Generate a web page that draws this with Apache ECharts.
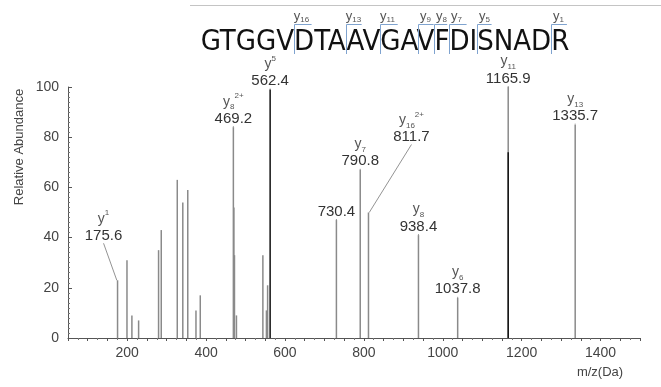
<!DOCTYPE html>
<html><head><meta charset="utf-8">
<script src="https://cdn.jsdelivr.net/npm/echarts@6/dist/echarts.min.js"></script>
<style>html,body{margin:0;padding:0;background:#fff}#c{width:661px;height:387px}</style>
</head><body><div id="c"></div>
<script>
// ---- data ----
const sequence = 'GTGGVDTAAVGAVFDISNADR';
const fragmentIons = ['16', '13', '11', '9', '8', '7', '5', '1'];
const xTickLabels = [200, 400, 600, 800, 1000, 1200, 1400];
const yTickLabels = [0, 20, 40, 60, 80, 100];

const labeledMz = [175.6, 469.2, 562.4, 730.4, 790.8, 811.7, 938.4, 1037.8, 1165.9, 1335.7];
const labeledIntensity = [23, 84, 99, 47, 67, 50, 41, 16, 100, 85];
const labeledIonSub = ['', '8', '', '', '7', '16', '8', '6', '11', '13'];
const labeledIonSup = ['1', '2+', '5', '', '', '2+', '', '', '', ''];

const otherMz = [199.5, 212, 229, 279.6, 286.4, 327, 341, 353.6, 374.4, 385.3, 470.5, 472, 477, 544, 553, 556];
const otherIntensity = [31, 9, 7, 35, 43, 63, 54, 59, 11, 17, 52, 33, 9, 33, 11, 21];

const overlapMz = [1165.9];
const overlapIntensity = [74];

// ---- chart ----
const chart = echarts.init(document.getElementById('c'), null, {renderer: 'canvas'});
const baseFont = '"Liberation Sans", Arial, sans-serif';
const GRAY = '#8a8a8a';

const labeledData = labeledMz.map((m, i) => ({
  value: [m, labeledIntensity[i]],
  itemStyle: {color: m === 562.4 ? '#111' : GRAY}
}));

function ionLabel(i) {
  const sub = labeledIonSub[i], sup = labeledIonSup[i];
  let head = '';
  if (sub || sup) {
    head = '{y|y}' + (sub ? '{sub|' + sub + '}' : '') + (sup ? '{sup|' + sup + '}' : '') + '\n';
  }
  return head + '{num|' + labeledMz[i].toFixed(1) + '}';
}

const seqFont = '29px "Liberation Sans Narrow", "DejaVu Sans Condensed", sans-serif';
const ctx = document.createElement('canvas').getContext('2d');
ctx.font = seqFont;
const seqW = ctx.measureText(sequence).width;
const seqCx = 385;
const seqStart = seqCx - seqW / 2;
const graphics = [];
graphics.push({type: 'line', shape: {x1: 190, y1: 5.5, x2: 661, y2: 5.5}, style: {stroke: '#c4c4c4', lineWidth: 1}});
graphics.push({type: 'text', x: seqCx, y: 42, style: {text: sequence, font: seqFont, fill: '#111', align: 'center', verticalAlign: 'middle'}});
fragmentIons.forEach(n => {
  const idx = sequence.length - parseInt(n, 10);
  const x = Math.round(seqStart + ctx.measureText(sequence.slice(0, idx)).width) + 0.5;
  const w = ctx.measureText(sequence[idx]).width * 0.85;
  graphics.push({type: 'polyline', shape: {points: [[x, 54], [x, 24.5], [x + w, 24.5]]}, style: {stroke: '#7fa3cf', lineWidth: 1, fill: null}});
  graphics.push({type: 'text', x: x + 7, y: 16, style: {
    text: '{y|y}{sub|' + n + '}', align: 'center', verticalAlign: 'middle',
    rich: {
      y: {fontSize: 13, fontFamily: baseFont, fill: '#555', lineHeight: 16, verticalAlign: 'middle'},
      sub: {fontSize: 8, fontFamily: baseFont, fill: '#555', lineHeight: 8, verticalAlign: 'bottom'}
    }
  }});
});
graphics.push({type: 'text', x: 19, y: 147, rotation: Math.PI / 2, style: {text: 'Relative Abundance', font: '13px ' + baseFont, fill: '#444', align: 'center', verticalAlign: 'middle'}});
graphics.push({type: 'text', x: 600, y: 372, style: {text: 'm/z(Da)', font: '13px ' + baseFont, fill: '#444', align: 'center', verticalAlign: 'middle'}});

const option = {
  animation: false,
  backgroundColor: '#fff',
  grid: {left: 68, right: 21, top: 87, bottom: 49},
  xAxis: {
    type: 'value', min: 50, max: 1500, interval: 50,
    axisLine: {lineStyle: {color: '#555', width: 1}},
    axisTick: {show: true, length: 3, lineStyle: {color: '#555'}},
    minorTick: {show: true, splitNumber: 2, length: 2, lineStyle: {color: '#777'}},
    splitLine: {show: false},
    axisLabel: {
      margin: 8, fontSize: 14, fontFamily: baseFont, color: '#444',
      formatter: v => xTickLabels.indexOf(v) >= 0 ? String(v) : ''
    }
  },
  yAxis: {
    type: 'value', min: 0, max: 100, interval: 20,
    axisLine: {show: true, lineStyle: {color: '#555', width: 1}},
    axisTick: {show: true, inside: true, length: 4, lineStyle: {color: '#555'}},
    minorTick: {show: true, splitNumber: 10, length: 2, lineStyle: {color: '#777'}},
    splitLine: {show: false},
    axisLabel: {
      margin: 9, fontSize: 14, fontFamily: baseFont, color: '#444',
      formatter: v => yTickLabels.indexOf(v) >= 0 ? String(v) : ''
    }
  },
  graphic: graphics,
  series: [
    {
      type: 'bar', name: 'other', barWidth: 1.5, barGap: '-100%',
      itemStyle: {color: GRAY},
      data: otherMz.map((m, i) => [m, otherIntensity[i]]),
      silent: true
    },
    {
      type: 'bar', name: 'labeled', barWidth: 1.5, barGap: '-100%',
      data: labeledData,
      label: {
        show: true, position: 'top', distance: 1,
        formatter: p => ionLabel(p.dataIndex),
        rich: {
          y: {fontSize: 14, fontFamily: baseFont, color: '#555', lineHeight: 19, verticalAlign: 'middle'},
          sub: {fontSize: 8, fontFamily: baseFont, color: '#555', lineHeight: 8, verticalAlign: 'bottom'},
          sup: {fontSize: 8, fontFamily: baseFont, color: '#555', lineHeight: 8, verticalAlign: 'top'},
          num: {fontSize: 15, fontFamily: baseFont, color: '#333', lineHeight: 15}
        }
      },
      labelLayout: p => {
        if (p.dataIndex === 0) return {dx: -14, dy: -36};
        if (p.dataIndex === 5) return {dx: 43, dy: -67};
        return {};
      },
      labelLine: {show: true, lineStyle: {color: '#777', width: 0.8}},
      silent: true
    },
    {
      type: 'bar', name: 'overlap', barWidth: 1.5, barGap: '-100%',
      itemStyle: {color: '#111'},
      data: overlapMz.map((m, i) => [m, overlapIntensity[i]]),
      silent: true
    }
  ]
};
chart.setOption(option);
</script>
</body></html>
